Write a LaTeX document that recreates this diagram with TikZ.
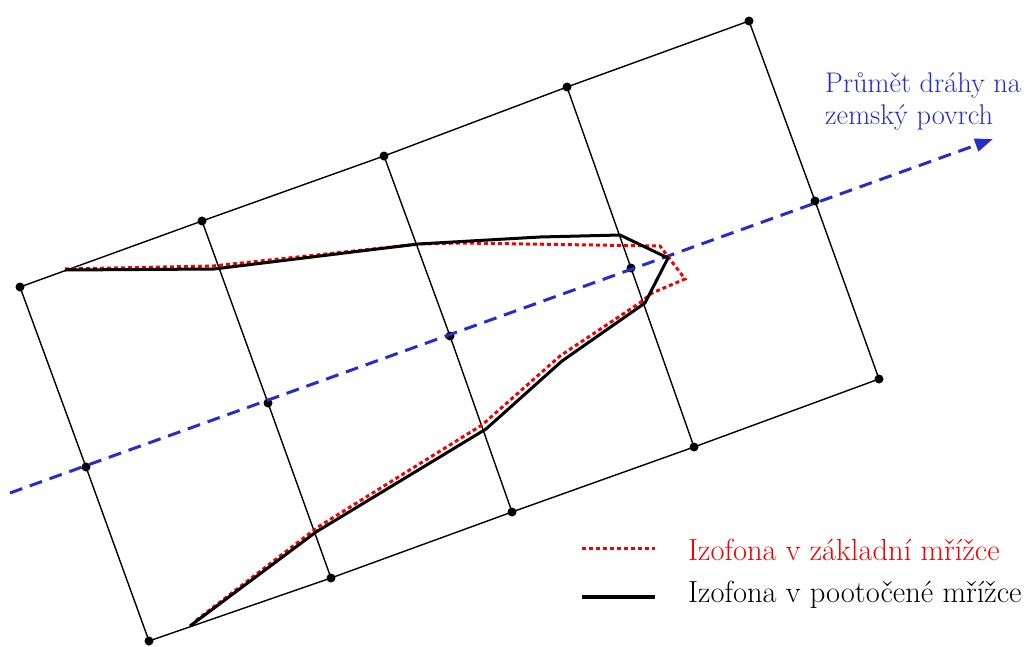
\documentclass[tikz,border=0pt]{standalone}
\usepackage{fontspec}
\usetikzlibrary{arrows.meta}
\definecolor{trackblue}{RGB}{40,45,200}
\definecolor{isored}{RGB}{245,0,0}
\begin{document}
\begin{tikzpicture}[x=1pt,y=-1pt,
  gridline/.style={line width=1.4pt,black},
  gdot/.style={circle,fill=black,inner sep=0pt,minimum size=9pt},
  track/.style={line width=3pt,trackblue,dash pattern=on 13pt off 8pt},
  isobase/.style={line width=3pt,isored,dash pattern=on 4pt off 3pt},
  isorot/.style={line width=3pt,black,line join=round},
  lbl/.style={anchor=base west,inner sep=0pt,font=\fontsize{28.4}{32}\selectfont}
]
\useasboundingbox[fill=white] (0,0) rectangle (1029,646);
% grid points
\node[gdot] (t0) at (20,287) {};
\node[gdot] (t1) at (202,221) {};
\node[gdot] (t2) at (384,156) {};
\node[gdot] (t3) at (567,87) {};
\node[gdot] (t4) at (749,21) {};
\node[gdot] (m0) at (86,467) {};
\node[gdot] (m1) at (268,403) {};
\node[gdot] (m2) at (450,336) {};
\node[gdot] (m3) at (631,268) {};
\node[gdot] (m4) at (815,201) {};
\node[gdot] (b0) at (149,641) {};
\node[gdot] (b1) at (331,578) {};
\node[gdot] (b2) at (512,512) {};
\node[gdot] (b3) at (694,447) {};
\node[gdot] (b4) at (879,379) {};
\draw[gridline] (t0.center) -- (t1.center) -- (t2.center) -- (t3.center) -- (t4.center);
\draw[gridline] (b0.center) -- (b1.center) -- (b2.center) -- (b3.center) -- (b4.center);
\foreach \i in {0,...,4}{\draw[gridline] (t\i.center) -- (m\i.center) -- (b\i.center);}
% ground track
\coordinate (trs) at (10,493);
\coordinate (tre) at (993,139);
\draw[track,-{Triangle[length=18pt,width=13pt]}] (trs) -- (tre);
% isophone in base grid
\coordinate (r1) at (65,269);
\coordinate (r2) at (213,266);
\coordinate (r3) at (420,244);
\coordinate (r4) at (460,243);
\coordinate (r5) at (660,246);
\coordinate (r6) at (685,279);
\coordinate (r7) at (652,293);
\coordinate (r8) at (641,302);
\coordinate (r9) at (560,356);
\coordinate (r10) at (482,425);
\coordinate (r11) at (318,527);
\coordinate (r12) at (194,622);
\draw[isobase] (r1) -- (r2) -- (r3) -- (r4) -- (r5) -- (r6) -- (r7) -- (r8) -- (r9) -- (r10) -- (r11) -- (r12);
% isophone in rotated grid
\coordinate (k1) at (65,270);
\coordinate (k2) at (214,269);
\coordinate (k3) at (418,244);
\coordinate (k4) at (540,237);
\coordinate (k5) at (620,235);
\coordinate (k6) at (668,258);
\coordinate (k7) at (645,303);
\coordinate (k8) at (562,361);
\coordinate (k9) at (486,429);
\coordinate (k10) at (316,532);
\coordinate (k11) at (190,626);
\draw[isorot] (k1) -- (k2) -- (k3) -- (k4) -- (k5) -- (k6) -- (k7) -- (k8) -- (k9) -- (k10) -- (k11);
% labels
\node[lbl,text=trackblue] (lab1) at (825,92) {Průmět dráhy na};
\node[lbl,text=trackblue] (lab2) at (825,124) {zemský povrch};
% legend
\coordinate (lga) at (582,548);
\coordinate (lgb) at (655,548);
\coordinate (lgc) at (582,597);
\coordinate (lgd) at (655,597);
\draw[isobase] (lga) -- (lgb);
\draw[isorot,line width=3.5pt] (lgc) -- (lgd);
\node[lbl,text=isored,font=\fontsize{30.5}{34}\selectfont] (leg1) at (688,560) {Izofona v základní mřížce};
\node[lbl,font=\fontsize{30.5}{34}\selectfont] (leg2) at (688,602) {Izofona v pootočené mřížce};
\end{tikzpicture}
\end{document}
